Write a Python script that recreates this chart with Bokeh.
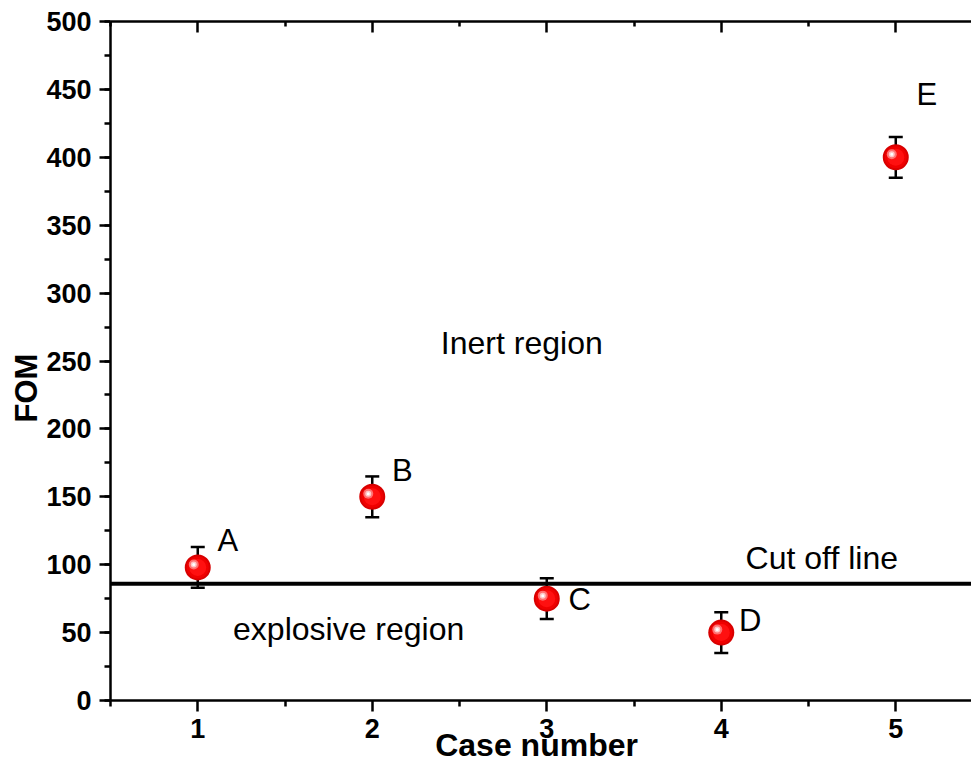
from bokeh.plotting import figure
from bokeh.models import (ColumnDataSource, Whisker, TeeHead, Span, Label, LinearAxis,
                          FixedTicker, SingleIntervalTicker, Range1d, Title)
from bokeh.core.properties import value
from bokeh.embed import file_html
from bokeh.resources import INLINE

# ---- data ----
cases = [1, 2, 3, 4, 5]
fom = [98, 150, 75, 50, 400]
err = [15, 15, 15, 15, 15]
point_labels = ["A", "B", "C", "D", "E"]
cutoff = 86
x_ticks = [1, 2, 3, 4, 5]
x_minor = [0.5, 1.5, 2.5, 3.5, 4.5, 5.5]

FONT = "Liberation Sans"

W, H = 971, 772
ML, MT, MB = 110, 21, 72
x0, x1 = 0.5, 5.434
y0, y1 = 0, 500
fw = W - ML
fh = H - MT - MB
pxx = fw / (x1 - x0)
pxy = fh / (y1 - y0)

p = figure(width=W, height=H, output_backend="svg", toolbar_location=None,
           x_range=Range1d(x0, x1), y_range=Range1d(y0, y1),
           min_border_left=ML, min_border_right=0, min_border_top=MT, min_border_bottom=MB,
           x_axis_location=None, y_axis_location=None)
p.xgrid.visible = False
p.ygrid.visible = False
p.outline_line_color = None
p.background_fill_color = "white"
p.border_fill_color = "white"

xt = FixedTicker(ticks=x_ticks, minor_ticks=x_minor)
yt = SingleIntervalTicker(interval=50, num_minor_ticks=2)

def style(ax):
    ax.axis_line_width = 2.5
    ax.axis_line_color = "black"
    ax.major_tick_line_width = 2.5
    ax.minor_tick_line_width = 2.5
    ax.major_tick_line_color = "black"
    ax.minor_tick_line_color = "black"
    ax.major_label_text_font = FONT
    ax.major_label_text_font_style = "bold"
    ax.major_label_text_font_size = "27px"
    ax.major_label_text_color = "black"
    ax.axis_label_text_font = FONT
    ax.axis_label_text_font_style = "bold"
    ax.axis_label_text_font_size = "32px"
    ax.axis_label_text_color = "black"

xb = LinearAxis(ticker=xt, axis_label="Case number ")
style(xb)
xb.major_tick_out = 11
xb.major_tick_in = 0
xb.minor_tick_out = 6
xb.minor_tick_in = 0
xb.major_label_standoff = 7
xb.axis_label_standoff = -14
p.add_layout(xb, "below")

yl = LinearAxis(ticker=yt)
style(yl)
yl.major_tick_out = 11
yl.major_tick_in = 0
yl.minor_tick_out = 6
yl.minor_tick_in = 0
yl.major_label_standoff = 8
p.add_layout(yl, "left")

# y-axis title, placed off-centre as in the reference
p.add_layout(Title(text="FOM", align="left", offset=278, standoff=0,
                   text_font=FONT, text_font_style="bold", text_font_size="31px",
                   text_color="black"), "left")

xtop = LinearAxis(ticker=xt, major_label_overrides={t: "" for t in x_ticks})
style(xtop)
xtop.major_tick_in = 11
xtop.major_tick_out = 0
xtop.minor_tick_in = 5
xtop.minor_tick_out = 0
xtop.major_label_standoff = 0
p.add_layout(xtop, "above")

# cut-off line
p.add_layout(Span(location=cutoff, dimension="width", line_color="black", line_width=4))

src = ColumnDataSource(dict(x=cases, y=fom,
                            lo=[f - e for f, e in zip(fom, err)],
                            hi=[f + e for f, e in zip(fom, err)],
                            lab=point_labels,
                            dx=[30, 30, 33, 29, 31],
                            dy=[-27, -26, 1, -12, -63]))

wh = Whisker(source=src, base="x", upper="hi", lower="lo", line_color="black", line_width=2.5,
             upper_head=TeeHead(size=14, line_width=2.5, line_color="black"),
             lower_head=TeeHead(size=14, line_width=2.5, line_color="black"))
p.add_layout(wh)

# sphere-like markers
p.scatter("x", "y", source=src, size=26, fill_color="#d80000", line_color=None)
p.scatter("x", "y", source=src, size=22, fill_color="#f00000", line_color=None)
p.scatter("x", "y", source=src, size=17, fill_color="#ff1010", line_color=None)
# highlight, shifted up-left by a few pixels
hsrc = ColumnDataSource(dict(x=[c - 4 / pxx for c in cases], y=[f + 3 / pxy for f in fom]))
p.scatter("x", "y", source=hsrc, size=10, fill_color="#ff7070", line_color=None)
p.scatter("x", "y", source=hsrc, size=6, fill_color="#ffc8c8", line_color=None)
p.scatter("x", "y", source=hsrc, size=3, fill_color="white", line_color=None)

# point letters
p.text("x", "y", text="lab", source=src, x_offset="dx", y_offset="dy",
       text_font=value(FONT), text_font_size="31px", text_color="black",
       text_align="center", text_baseline="middle")

# region annotations
for txt, tx, ty in [("Inert region", 2.857, 263.6),
                    ("explosive region", 1.865, 53),
                    ("Cut off line", 4.576, 105.3)]:
    p.add_layout(Label(x=tx, y=ty, text=txt, text_font=FONT, text_font_size="32px",
                       text_color="black", text_align="center", text_baseline="middle"))

open("out.html", "w").write(file_html(p, INLINE))
